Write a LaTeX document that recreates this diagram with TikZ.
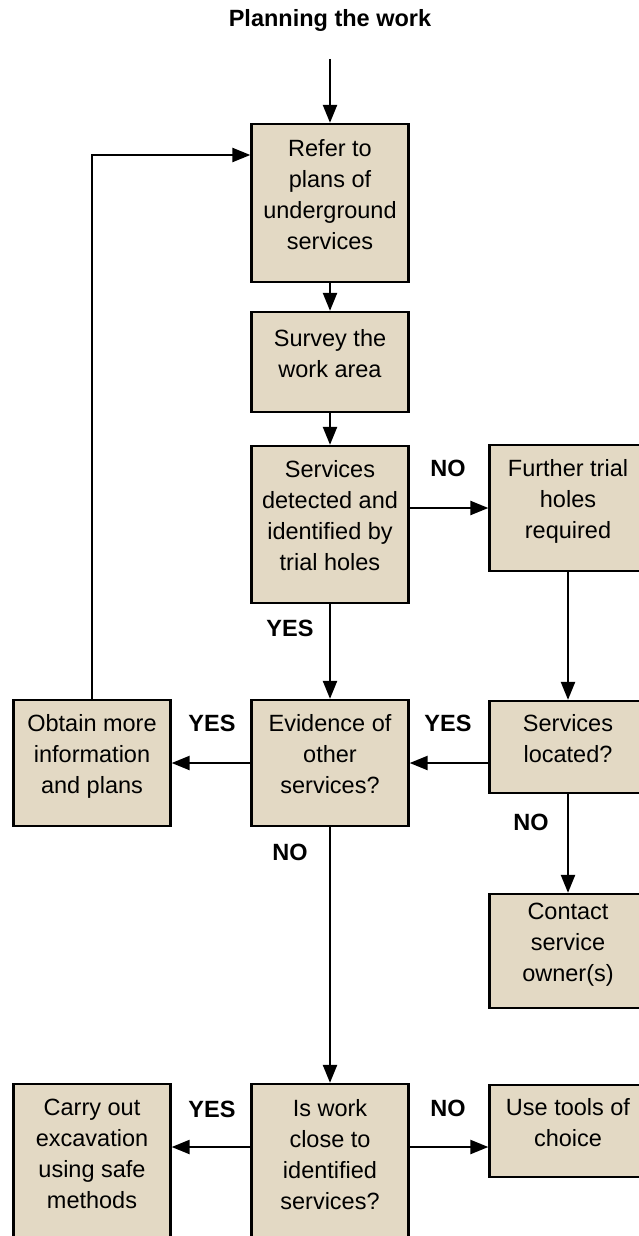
\documentclass[tikz,border=0pt]{standalone}
\usepackage{fontspec}
\setmainfont{Liberation Sans}
\usetikzlibrary{arrows.meta}
\definecolor{boxfill}{RGB}{227,217,196}
\begin{document}
\begin{tikzpicture}[x=1pt,y=-1pt,
  box/.style={draw=black, line width=2.3pt, fill=boxfill, minimum width=157pt,
    align=center, font=\fontsize{23.5}{31}\selectfont, text depth=18pt, inner sep=0pt},
  lab/.style={font=\fontsize{23.5}{28}\selectfont\bfseries, inner sep=0pt},
  arr/.style={line width=2.3pt, -{Triangle[length=18pt,width=14pt]}}]
\clip (0,0) rectangle (639,1236);
\fill[white] (0,0) rectangle (639,1236);

\node[lab] (title) at (330,20) {Planning the work};
\coordinate (start) at (330,59);

\node[box, minimum height=158pt] (refer) at (330,203) {Refer to\\plans of\\underground\\services};
\node[box, minimum height=100pt] (survey) at (330,362) {Survey the\\work area};
\node[box, minimum height=157pt] (detect) at (330,524.5) {Services\\detected and\\identified by\\trial holes};
\node[box, minimum height=126pt] (further) at (568,508) {Further trial\\holes\\required};
\node[box, minimum height=126pt] (evidence) at (330,763) {Evidence of\\other\\services?};
\node[box, minimum height=126pt] (obtain) at (92,763) {Obtain more\\information\\and plans};
\node[box, minimum height=92pt] (located) at (568,747) {Services\\located?};
\node[box, minimum height=114pt] (contact) at (568,951) {Contact\\service\\owner(s)};
\node[box, minimum height=158pt] (iswork) at (330,1163) {Is work\\close to\\identified\\services?};
\node[box, minimum height=158pt] (carry) at (92,1163) {Carry out\\excavation\\using safe\\methods};
\node[box, minimum height=92pt] (usetools) at (568,1131) {Use tools of\\choice};

\node[lab] (no1) at (448,468) {NO};
\node[lab] (yes1) at (290,628) {YES};
\node[lab] (yes2) at (212,723) {YES};
\node[lab] (yes3) at (448,723) {YES};
\node[lab] (no2) at (531,822) {NO};
\node[lab] (no3) at (290,852) {NO};
\node[lab] (yes4) at (212,1109) {YES};
\node[lab] (no4) at (448,1108) {NO};

\draw[arr] (start) -- (refer.north);
\draw[arr] (refer.south) -- (survey.north);
\draw[arr] (survey.south) -- (detect.north);
\draw[arr] (detect.east |- further.west) -- (further.west);
\draw[arr] (detect.south) -- (evidence.north);
\draw[arr] (further.south) -- (located.north);
\draw[arr] (located.west |- evidence.east) -- (evidence.east);
\draw[arr] (evidence.west) -- (obtain.east);
\draw[arr] (located.south) -- (contact.north);
\draw[arr] (obtain.north) |- ([yshift=48pt]refer.west);
\draw[arr] (evidence.south) -- (iswork.north);
\draw[arr] ([yshift=16pt]iswork.west) -- ([yshift=16pt]iswork.west -| carry.east);
\draw[arr] ([yshift=16pt]iswork.east) -- ([yshift=16pt]iswork.east -| usetools.west);
\end{tikzpicture}
\end{document}
